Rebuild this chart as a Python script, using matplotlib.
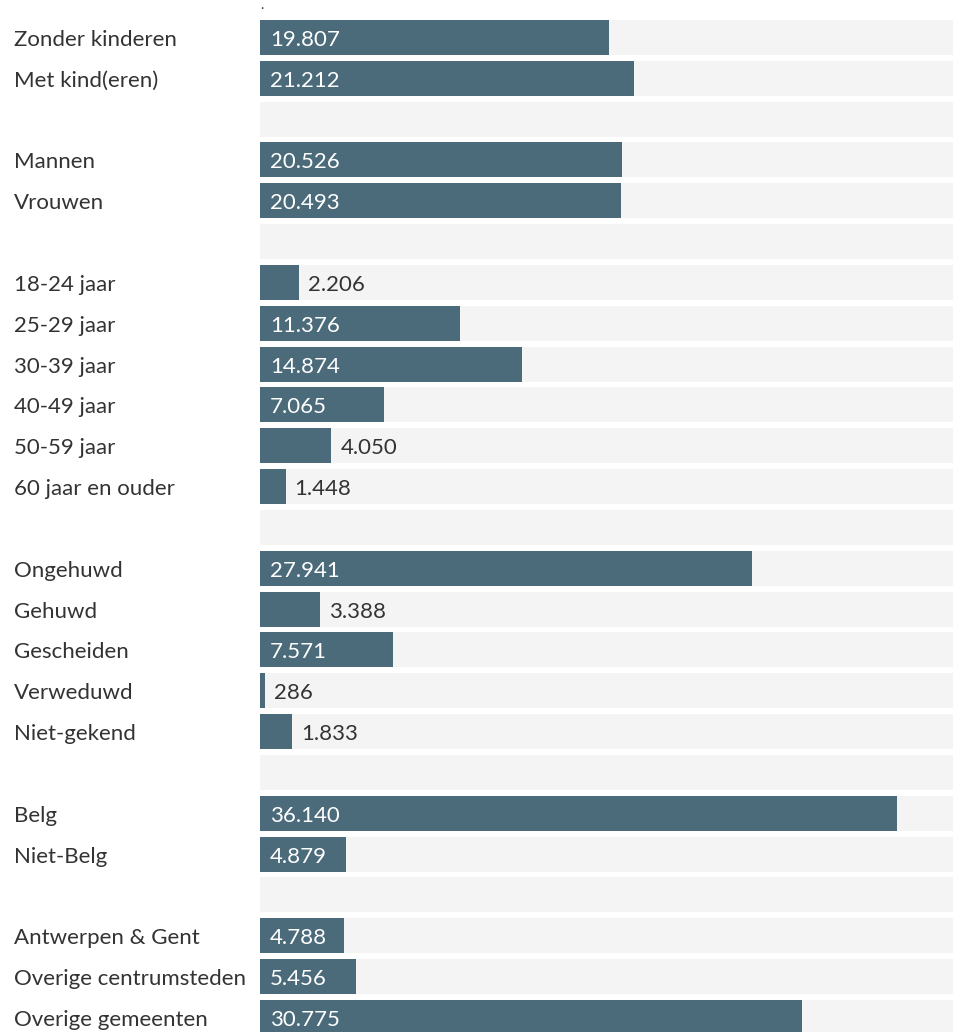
import matplotlib.pyplot as plt

# categories (empty string = spacer row)
labels = ['Zonder kinderen', 'Met kind(eren)', '',
          'Mannen', 'Vrouwen', '',
          '18-24 jaar', '25-29 jaar', '30-39 jaar', '40-49 jaar', '50-59 jaar', '60 jaar en ouder', '',
          'Ongehuwd', 'Gehuwd', 'Gescheiden', 'Verweduwd', 'Niet-gekend', '',
          'Belg', 'Niet-Belg', '',
          'Antwerpen & Gent', 'Overige centrumsteden', 'Overige gemeenten']
values = [19807, 21212, None,
          20526, 20493, None,
          2206, 11376, 14874, 7065, 4050, 1448, None,
          27941, 3388, 7571, 286, 1833, None,
          36140, 4879, None,
          4788, 5456, 30775]

bar_color = '#4b6b7b'
bg_color = '#f4f4f4'
text_color = '#333333'
xmax = 39390

plt.rcParams['font.family'] = ['Lato', 'DejaVu Sans']

fig = plt.figure(figsize=(9.54, 10.32), dpi=100)
ax = fig.add_axes([260 / 954, 0, 694 / 954, 1])

pitch = 40.83
ypos = list(range(len(labels)))

ax.barh(ypos, [xmax] * len(labels), height=35 / pitch, color=bg_color, linewidth=0)
ax.barh(ypos, [v if v else 0 for v in values], height=35 / pitch, color=bar_color, linewidth=0)

px = xmax / 694  # data units per pixel
dy = 2.5 / pitch  # nudge text down a little
for i, (lab, v) in enumerate(zip(labels, values)):
    if lab:
        ax.text(-246 * px, i + dy, lab, ha='left', va='center', fontsize=16,
                color=text_color, clip_on=False)
    if v is None:
        continue
    txt = f'{v:,}'.replace(',', '.')
    if v >= 4500:
        ax.text(10 * px, i + dy, txt, ha='left', va='center', fontsize=16, color='white')
    else:
        ax.text(v + 9 * px, i + dy, txt, ha='left', va='center', fontsize=16, color=text_color)

ax.set_xlim(0, xmax)
ax.set_ylim((1032 - 37.5) / pitch, -37.5 / pitch)
ax.axis('off')

fig.text(262 / 954, 1 - 5 / 1032, '.', fontsize=10, color=text_color, ha='center', va='center')

fig.savefig('out.png', dpi=100)
